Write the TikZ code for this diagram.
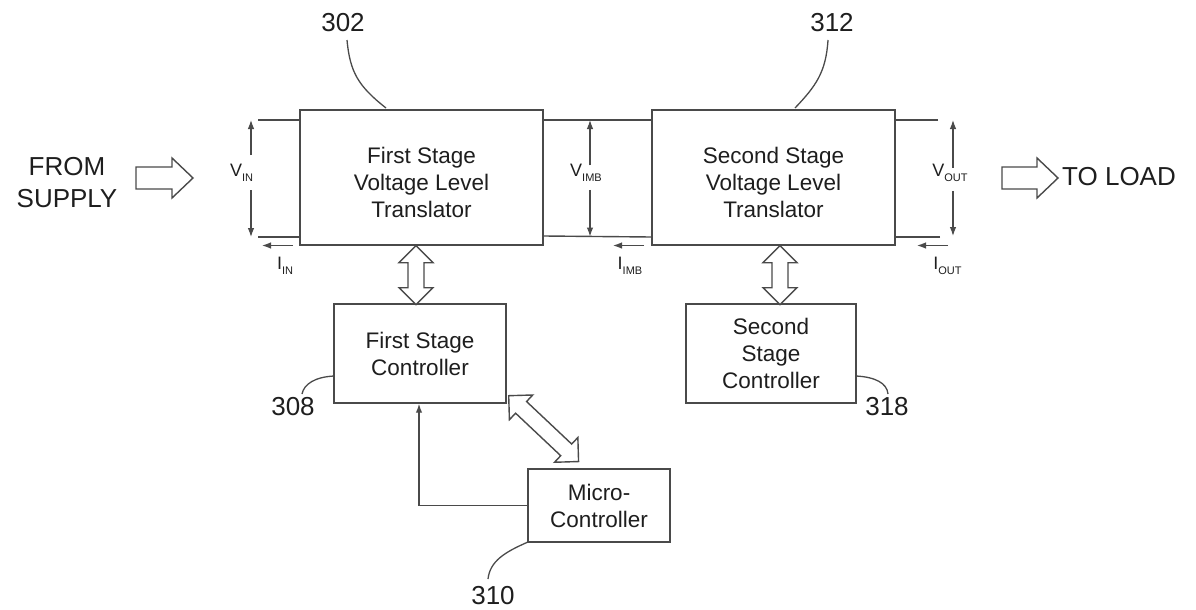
\documentclass[tikz,border=0pt]{standalone}
\usepackage{fontspec}
\setmainfont{Liberation Sans}
\usetikzlibrary{arrows.meta,calc}
\definecolor{ln}{HTML}{4A4A4A}
\definecolor{tx}{HTML}{1E1E1E}
\tikzset{
  box/.style={draw=ln, line width=1.4pt, fill=white, align=center, text=tx, inner sep=0pt,
    font=\fontsize{22.5}{27}\selectfont},
  boxtext/.style={align=center, text=tx, inner sep=0pt, font=\fontsize{22.5}{27}\selectfont, yshift=-4.5pt},
  wire/.style={draw=ln, line width=1.4pt},
  meas/.style={draw=ln, line width=1.1pt, -{Latex[length=9pt,width=6.5pt]}},
  fat/.style={draw=ln, line width=1.4pt, fill=white, line join=miter},
  lead/.style={draw=ln, line width=1.3pt},
  big/.style={font=\fontsize{26}{32}\selectfont, text=tx, inner sep=0pt, align=center},
  num/.style={font=\fontsize{26}{32}\selectfont, text=tx, inner sep=0pt},
  vl/.style={text=tx, inner sep=0pt},
}
\newcommand\Vsub[2]{{\fontsize{18}{18}\selectfont #1}\raisebox{-5pt}{\fontsize{11}{11}\selectfont #2}}
\newcommand\fatdbl[3]{\begin{scope}[shift={(#1)},rotate=#2]
  \draw[fat] (0,0) -- (17,17) -- (17,8) -- ({#3-17},8) -- ({#3-17},17) -- (#3,0)
     -- ({#3-17},-17) -- ({#3-17},-8) -- (17,-8) -- (17,-17) -- cycle;
\end{scope}}
\newcommand\fatone[2]{\begin{scope}[shift={(#1)}]
  \draw[fat] (0,-11) -- ({#2-21},-11) -- ({#2-21},-20) -- (#2,0) -- ({#2-21},20)
     -- ({#2-21},11) -- (0,11) -- cycle;
\end{scope}}
\begin{document}
\begin{tikzpicture}[x=1pt,y=-1pt]
\useasboundingbox (0,0) rectangle (1196,610);

% main boxes
\node[box, minimum width=243pt, minimum height=135pt,
  label={[boxtext]center:First Stage\\Voltage Level\\Translator}] (b302) at (421.5,177.5) {};
\node[box, minimum width=243pt, minimum height=135pt,
  label={[boxtext]center:Second Stage\\Voltage Level\\Translator}] (b312) at (773.5,177.5) {};
\node[box, minimum width=172pt, minimum height=99pt] (b308) at (420,353.5) {First Stage\\Controller};
\node[box, minimum width=170pt, minimum height=99pt] (b318) at (771,353.5) {Second\\Stage\\Controller};
\node[box, minimum width=142pt, minimum height=73pt] (b310) at (599,505.5) {Micro-\\Controller};

% supply / load
\node[big] (sup) at (67,182.5) {FROM\\SUPPLY};
\node[big, anchor=west] (load) at (1062,177) {TO LOAD};
\coordinate (fa1) at (136,178);
\coordinate (fa2) at (1002,178);
\fatone{fa1}{57}
\fatone{fa2}{56}

% wires
\coordinate (inT) at (258,120);
\coordinate (inB) at (258,237);
\coordinate (outT) at (938,120);
\coordinate (outB) at (940,237);
\draw[wire] (inT) -- (inT -| b302.west);
\draw[wire] (inB) -- (inB -| b302.west);
\draw[wire] (b302.east |- inT) -- (b312.west |- inT);
\draw[wire] ($(b302.east)+(0,58.5)$) -- ($(b312.west)+(0,59.5)$);
\draw[wire] (outT) -- (outT -| b312.east);
\draw[wire] (outB) -- (outB -| b312.east);

% voltage labels and arrows
\node[vl] (vin) at (241.5,172.5) {\Vsub{V}{IN}};
\node[vl] (vimb) at (586,172.5) {\Vsub{V}{IMB}};
\node[vl] (vout) at (950,172.5) {\Vsub{V}{OUT}};
\coordinate (vinA) at (251,120); \coordinate (vinB) at (251,237);
\coordinate (vimA) at (590,120); \coordinate (vimB) at (590,236.5);
\coordinate (voA) at (953,120); \coordinate (voB) at (953,236);
\draw[meas] ($(vinA)!0.3!(vinB)$) -- (vinA);
\draw[meas] ($(vinA)!0.6!(vinB)$) -- (vinB);
\draw[meas] ($(vimA)!0.39!(vimB)$) -- (vimA);
\draw[meas] ($(vimA)!0.6!(vimB)$) -- (vimB);
\draw[meas] ($(voA)!0.41!(voB)$) -- (voA);
\draw[meas] ($(voA)!0.61!(voB)$) -- (voB);

% current labels and arrows
\node[vl] (iin) at (285,266) {\Vsub{I}{IN}};
\node[vl] (iimb) at (630,266) {\Vsub{I}{IMB}};
\node[vl] (iout) at (947.5,266) {\Vsub{I}{OUT}};
\coordinate (i1a) at (293,245.5); \coordinate (i1b) at (262,245.5);
\coordinate (i2a) at (644,245.5); \coordinate (i2b) at (613,245.5);
\coordinate (i3a) at (948,245.5); \coordinate (i3b) at (917,245.5);
\draw[meas] (i1a) -- (i1b);
\draw[meas] (i2a) -- (i2b);
\draw[meas] (i3a) -- (i3b);

% double block arrows
\fatdbl{$(b308.north |- b302.south)+(-4,0)$}{-90}{59}
\fatdbl{$(b318.north |- b312.south)+(9,0)$}{-90}{59}
\fatdbl{$(b308.south east)+(2,-8)$}{-43.3}{96}

% feedback from micro-controller
\coordinate (fb) at (419,505.5);
\draw[meas, line width=1.4pt] (b310.west) -- (fb) -- (fb |- b308.south);

% reference numerals
\node[num] (n302) at (343,23) {302};
\node[num] (n312) at (832,23) {312};
\node[num] (n308) at (293,407) {308};
\node[num] (n318) at (887,407) {318};
\node[num] (n310) at (493,596) {310};
\coordinate (l302a) at (347,40); \coordinate (l302b) at (386,108);
\coordinate (l312a) at (828,40); \coordinate (l312b) at (795,108);
\coordinate (l308a) at (334,376); \coordinate (l308b) at (302,394);
\coordinate (l318a) at (856,376); \coordinate (l318b) at (888,394);
\coordinate (l310a) at (528,542); \coordinate (l310b) at (488,579);
\draw[lead] (l302a) .. controls (350,72) and (358,86) .. (l302b);
\draw[lead] (l312a) .. controls (826,72) and (816,86) .. (l312b);
\draw[lead] (l308a) .. controls (315,377) and (304,384) .. (l308b);
\draw[lead] (l318a) .. controls (875,377) and (887,383) .. (l318b);
\draw[lead] (l310a) .. controls (505,552) and (490,561) .. (l310b);
\end{tikzpicture}
\end{document}
